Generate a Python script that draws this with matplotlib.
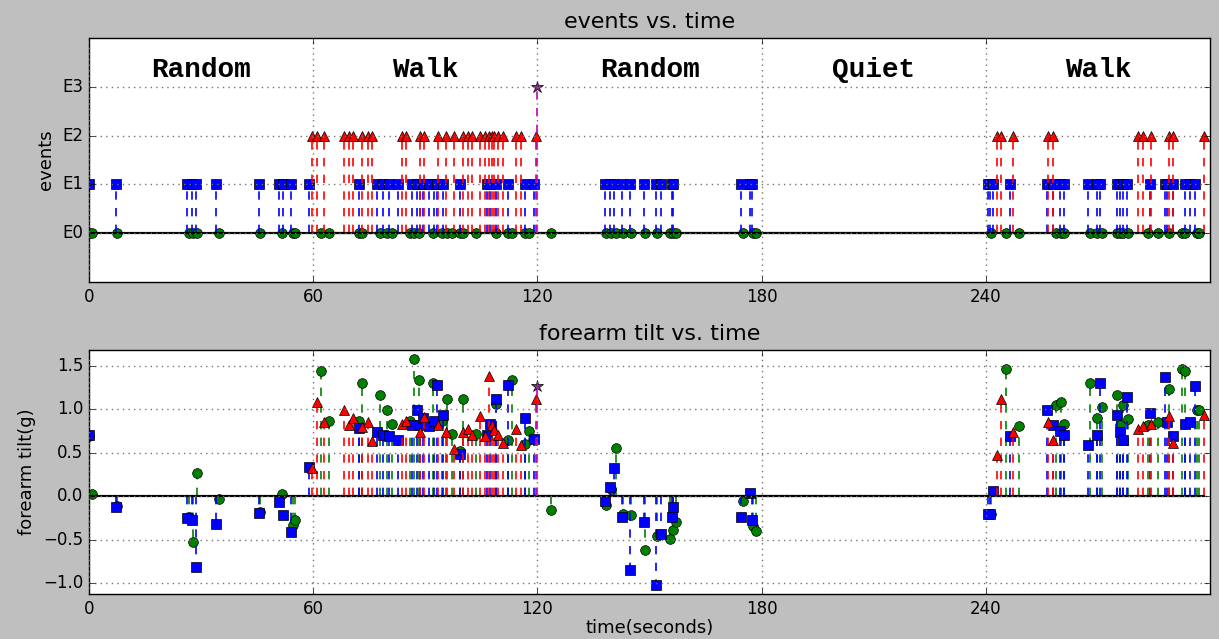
import numpy as np
import matplotlib
matplotlib.use("Agg")
import matplotlib.pyplot as plt

# ---------------- data ----------------
# type-0 events (green circles)
green_t = [0.0, 0.9, 7.6, 26.8, 27.7, 28.8, 34.8, 45.7, 51.6, 54.5, 55.0,
           62.1, 64.1, 72.3, 73.0, 77.9, 79.7, 81.1, 85.9, 87.1, 88.2, 92.0,
           94.6, 95.7, 97.1, 99.4, 100.0, 103.6, 108.9, 112.2, 113.2, 116.7, 117.7,
           123.7, 138.4, 139.7, 141.1, 142.8, 145.0, 148.9, 152.0, 155.4, 156.4, 157.2,
           175.0, 177.7, 178.6,
           241.5, 245.4, 248.9, 258.9, 260.2, 260.9, 268.0, 269.7, 271.0, 275.0,
           275.9, 276.8, 278.1, 283.5, 286.2, 288.9, 292.4, 293.3, 296.4, 297.0]
green_v = [0.69, 0.03, -0.11, -0.24, -0.53, 0.27, -0.03, -0.18, 0.03, -0.33, -0.28,
           1.44, 0.87, 0.87, 1.30, 1.17, 0.99, 0.83, 0.87, 1.58, 1.34, 1.30,
           0.87, 1.12, 0.72, 0.52, 1.12, 0.72, 1.06, 0.65, 1.34, 0.60, 0.75,
           -0.16, -0.10, 0.08, 0.56, -0.20, -0.22, -0.62, -0.46, -0.49, -0.39, -0.30,
           -0.06, -0.34, -0.40,
           -0.20, 1.47, 0.81, 1.05, 1.09, 0.83, 1.30, 0.90, 1.03, 1.17,
           0.82, 1.05, 0.89, 0.82, 0.86, 1.24, 1.47, 1.44, 0.99, 0.99]

# type-1 events (blue squares)
blue_t = [0.1, 7.3, 26.3, 27.5, 28.6, 33.9, 45.5, 50.9, 52.0, 54.0, 58.8,
          72.3, 77.2, 78.6, 80.4, 82.8, 86.4, 87.7, 88.5, 89.5, 91.1, 92.2, 93.1,
          94.8, 99.4, 106.5, 107.3, 108.9, 112.1, 116.8, 119.2,
          138.1, 139.3, 140.4, 142.7, 144.8, 148.4, 151.8, 153.1, 156.0, 156.4,
          174.4, 177.0, 177.5,
          240.6, 241.1, 242.0, 246.4, 256.4, 258.1, 259.8, 261.0, 267.4, 269.7,
          270.6, 275.0, 275.9, 276.8, 277.7, 283.9, 287.9, 288.4, 290.2, 293.3,
          294.6, 296.0]
blue_v = [0.71, -0.13, -0.25, -0.28, -0.82, -0.32, -0.19, -0.07, -0.22, -0.41, 0.34,
          0.79, 0.74, 0.71, 0.69, 0.65, 0.82, 0.99, 0.82, 0.90, 0.81, 0.87, 1.28,
          0.93, 0.49, 0.71, 0.83, 1.12, 1.28, 0.90, 0.66,
          -0.06, 0.10, 0.32, -0.24, -0.855, -0.30, -1.02, -0.44, -0.24, -0.12,
          -0.24, 0.04, -0.27,
          -0.21, -0.21, 0.06, 0.69, 0.99, 0.82, 0.75, 0.71, 0.59, 0.71,
          1.30, 0.93, 0.74, 0.65, 1.14, 0.96, 1.37, 0.86, 0.69, 0.83,
          0.86, 1.27]

# type-2 events (red triangles)
red_t = [59.8, 60.9, 62.8, 68.3, 69.6, 70.7, 73.0, 74.6, 75.7, 83.7, 84.8,
         88.5, 89.7, 93.5, 95.5, 97.6, 100.2, 101.5, 102.5, 104.7, 106.0,
         107.1, 107.8, 108.3, 109.4, 110.9, 114.3, 115.5, 119.6,
         243.0, 244.2, 247.3, 256.7, 257.9, 280.8, 282.0, 284.1, 288.9, 290.2, 298.4]
red_v = [0.32, 1.08, 0.85, 0.99, 0.82, 0.90, 0.80, 0.86, 0.64, 0.83, 0.87,
         0.74, 0.91, 0.82, 0.74, 0.54, 0.74, 0.77, 0.70, 0.92, 0.69,
         1.39, 0.82, 0.76, 0.71, 0.61, 0.77, 0.59, 1.12,
         0.48, 1.12, 0.74, 0.85, 0.65, 0.77, 0.81, 0.83, 0.92, 0.61, 0.93]

# type-3 event (star)
star_t = [120.0]
star_v = [1.27]

level_labels = ["E0", "E1", "E2", "E3"]
phase_names = ["Random", "Walk", "Random", "Quiet", "Walk"]
phase_bounds = [0, 60, 120, 180, 240, 300]
x_ticks = [0, 60, 120, 180, 240]
tilt_ticks = [-1.0, -0.5, 0.0, 0.5, 1.0, 1.5]

# ---------------- style ----------------
plt.style.use("classic")
plt.rcParams["font.family"] = ["DejaVu Sans"]

W, H, DPI = 1219, 639, 100
fig = plt.figure(figsize=(W / DPI, H / DPI), dpi=DPI, facecolor="#bfbfbf")

ax1 = fig.add_axes([89 / W, 1 - 282 / H, (1210 - 89) / W, (282 - 38) / H])
ax2 = fig.add_axes([89 / W, 1 - 594 / H, (1210 - 89) / W, (594 - 350) / H])

series = [
    (green_t, green_v, 0, "g", "o"),
    (blue_t, blue_v, 1, "b", "s"),
    (red_t, red_v, 2, "r", "^"),
    (star_t, star_v, 3, "m", "*"),
]


def draw_stems(ax, t, v, color, marker, ms):
    ml, sl, bl = ax.stem(t, v, linefmt=color + "--", markerfmt=color + marker,
                         basefmt="k-")
    plt.setp(sl, linewidth=1.2)
    plt.setp(ml, markersize=ms, markeredgecolor="k", markeredgewidth=0.5)
    if color == "m":
        plt.setp(ml, markerfacecolor="#8a2a8a")
    plt.setp(bl, color="k", linewidth=1.5)


for t, v, lev, c, m in series:
    ms = 9 if m == "*" else 7
    draw_stems(ax1, t, np.full(len(t), lev, dtype=float), c, m, ms)
    draw_stems(ax2, t, v, c, m, ms)

# top panel
ax1.set_xlim(0, 300)
ax1.set_ylim(-1, 4)
ax1.set_xticks(x_ticks)
ax1.set_yticks(range(len(level_labels)))
ax1.set_yticklabels(level_labels, fontsize=15)
ax1.grid(True, linestyle=":", color="0.45", linewidth=1.0)
ax1.set_title("events vs. time", fontsize=16, pad=7)
ax1.set_ylabel("events", fontsize=13)
for i, name in enumerate(phase_names):
    mid = 0.5 * (phase_bounds[i] + phase_bounds[i + 1])
    ax1.text(mid, 3.35, name, ha="center", va="center", fontsize=20,
             family=["Liberation Mono", "DejaVu Sans Mono"], fontweight="bold")

# bottom panel
ax2.set_xlim(0, 300)
ax2.set_ylim(-1.127, 1.684)
ax2.set_xticks(x_ticks)
ax2.set_yticks(tilt_ticks)
ax2.grid(True, linestyle=":", color="0.45", linewidth=1.0)
ax2.set_title("forearm tilt vs. time", fontsize=16, pad=7)
ax2.set_ylabel("forearm tilt(g)", fontsize=13)
ax2.set_xlabel("time(seconds)", fontsize=13, labelpad=1)

for ax in (ax1, ax2):
    ax.tick_params(labelsize=12)
    ax.set_facecolor("white")

fig.savefig("out.png", dpi=DPI, facecolor=fig.get_facecolor())
